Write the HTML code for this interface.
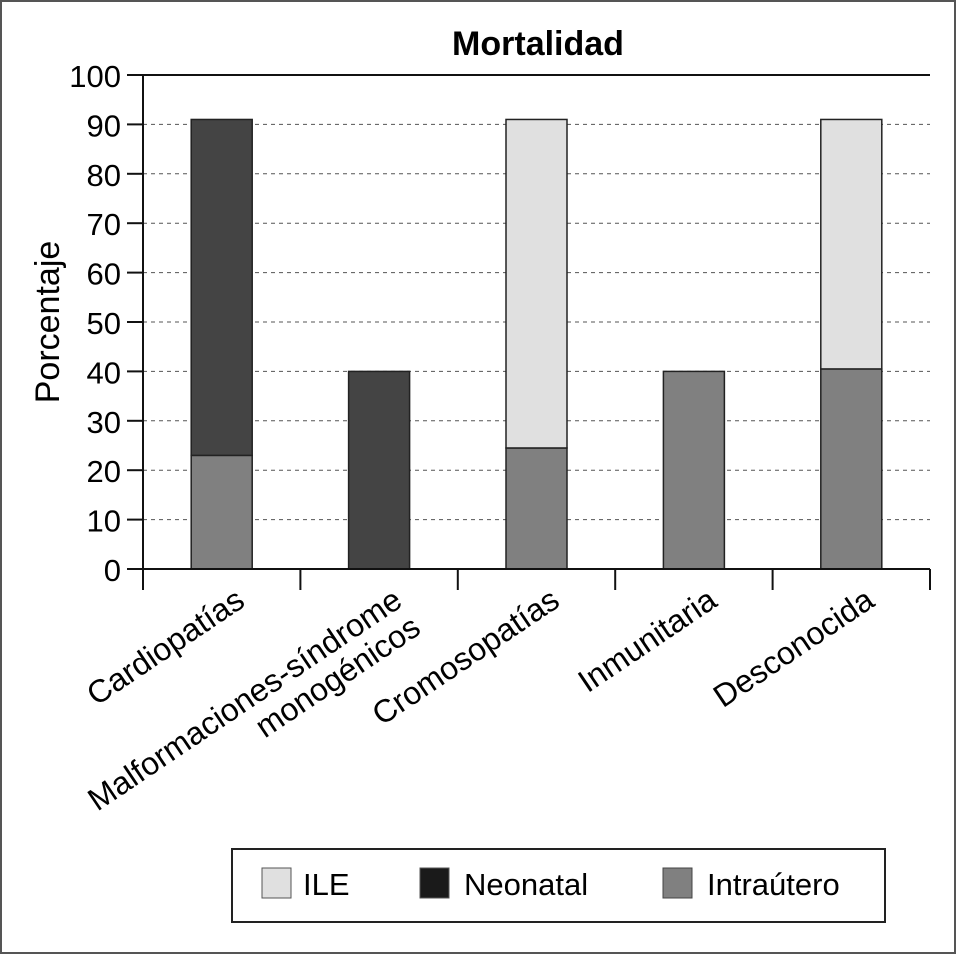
<!DOCTYPE html>
<html><head><meta charset="utf-8"><style>
html,body{margin:0;padding:0;background:#fff;}
svg{display:block;font-family:"Liberation Sans",Arial,sans-serif;}
</style></head><body>
<svg id="chart" width="956" height="954" viewBox="0 0 956 954">
<rect x="1" y="1" width="954" height="952" fill="#fff" stroke="#555" stroke-width="2"/>
<text x="538" y="55" text-anchor="middle" font-size="34" font-weight="bold">Mortalidad</text>
<text transform="translate(59,322) rotate(-90)" text-anchor="middle" font-size="34">Porcentaje</text>
<g id="grid"></g><g id="bars"></g><g id="axes"></g><g id="xlabels"></g>
<g>
<rect x="232" y="849" width="653" height="73" fill="#fff" stroke="#222" stroke-width="2"/>
<rect x="262" y="868" width="29" height="30" fill="#e0e0e0" stroke="#555"/>
<text x="303" y="895" font-size="31">ILE</text>
<rect x="420" y="868" width="29" height="30" fill="#1a1a1a" stroke="#555"/>
<text x="464" y="895" font-size="31">Neonatal</text>
<rect x="663" y="868" width="29" height="30" fill="#808080" stroke="#444"/>
<text x="707" y="895" font-size="31">Intraútero</text>
</g>
</svg>
<script>
const categories = ["Cardiopatías", "Malformaciones-síndrome|monogénicos", "Cromosopatías", "Inmunitaria", "Desconocida"];
const intrautero = [23, 0, 24.5, 40, 40.5];
const neonatal = [68, 40, 0, 0, 0];
const ile = [0, 0, 66.5, 0, 50.5];
const yTicks = [0, 10, 20, 30, 40, 50, 60, 70, 80, 90, 100];

const NS = "http://www.w3.org/2000/svg";
const L = 143, R = 930, T = 75, B = 569;
const yS = v => B - (v / 100) * (B - T);
const band = (R - L) / categories.length;
const xc = i => L + band * (i + 0.5);
const barW = 61;
function mk(tag, attrs, parent) {
  const e = document.createElementNS(NS, tag);
  for (const k in attrs) e.setAttribute(k, attrs[k]);
  parent.appendChild(e);
  return e;
}
const gridG = document.getElementById("grid"), barsG = document.getElementById("bars"),
      axesG = document.getElementById("axes"), xlG = document.getElementById("xlabels");

yTicks.forEach(t => {
  if (t > 0 && t < 100) {
    const g = mk("line", {x1: L, x2: R, y1: yS(t), y2: yS(t), stroke: "#555", "stroke-width": 1, "stroke-dasharray": "4,4"}, gridG);
    
    
  }
  const tk = mk("line", {x1: L - 16, x2: L, y1: yS(t), y2: yS(t), stroke: "#111", "stroke-width": 2}, axesG);
  
  
  const lb = mk("text", {x: L - 22, y: yS(t) + 12, "text-anchor": "end", "font-size": 31}, axesG);
  lb.textContent = t;
  
  
});

const series = [
  {name: "intrautero", vals: intrautero, fill: "#808080"},
  {name: "neonatal", vals: neonatal, fill: "#444444"},
  {name: "ile", vals: ile, fill: "#e0e0e0"}
];
categories.forEach((c, i) => {
  let base = 0;
  series.forEach(s => {
    const v = s.vals[i];
    if (v > 0) {
      const r = mk("rect", {x: xc(i) - barW / 2, y: yS(base + v), width: barW, height: yS(base) - yS(base + v), fill: s.fill, stroke: "#222", "stroke-width": 1.5}, barsG);
      
      
    }
    base += v;
  });
  const lines = c.split("|");
  const ax = xc(i) + 25, ay = 605;
  const t = mk("text", {transform: "translate(" + ax + "," + ay + ") rotate(-34)", "text-anchor": "end", "font-size": 32}, xlG);
  
  
  lines.forEach((ln, j) => {
    const sp = mk("tspan", {x: 0, dy: j === 0 ? 0 : 33}, t);
    sp.textContent = ln;
  });
});

const topLine = mk("line", {x1: L, x2: R, y1: T, y2: T, stroke: "#111", "stroke-width": 2}, axesG);


const yAxis = mk("line", {x1: L, x2: L, y1: T, y2: B + 21, stroke: "#111", "stroke-width": 2}, axesG);


const xAxis = mk("line", {x1: L, x2: R, y1: B, y2: B, stroke: "#111", "stroke-width": 2}, axesG);


for (let i = 1; i <= categories.length; i++) {
  const xt = L + band * i;
  const tk = mk("line", {x1: xt, x2: xt, y1: B, y2: B + 21, stroke: "#111", "stroke-width": 2}, axesG);
  
  
}
</script>
</body></html>
